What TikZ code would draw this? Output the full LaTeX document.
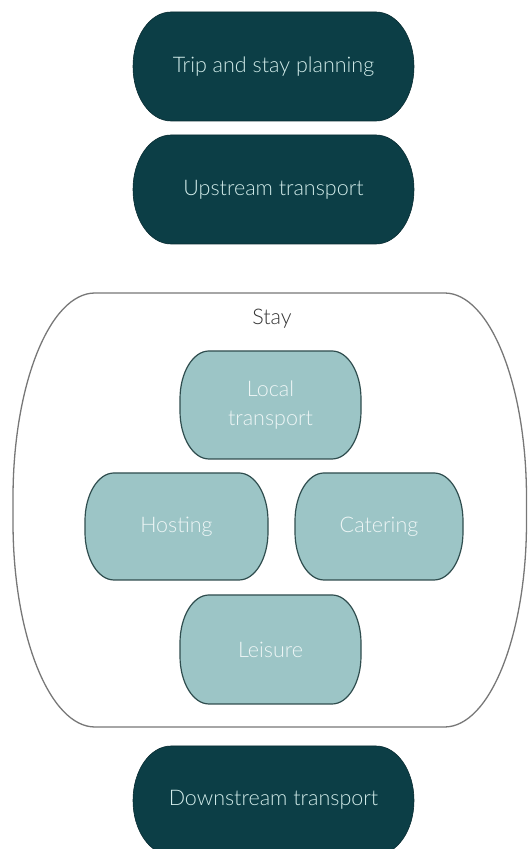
\documentclass[tikz,border=0pt]{standalone}
\usepackage{fontspec}
\setmainfont{Lato Light}
\definecolor{darkteal}{HTML}{0C3E46}
\definecolor{darktext}{HTML}{D2ECEA}
\definecolor{lightfill}{HTML}{9CC5C6}
\definecolor{lightborder}{HTML}{2F4D4E}
\definecolor{lighttext}{HTML}{EEF6F6}
\definecolor{framegray}{HTML}{777777}
% #1 x1, #2 y1, #3 x2, #4 y2, #5 rx, #6 ry
\newcommand\ovalbox[6]{(#1+#5,#4) -- (#3-#5,#4)
  arc[start angle=90,end angle=0,x radius=#5,y radius=#6] -- (#3,#2+#6)
  arc[start angle=0,end angle=-90,x radius=#5,y radius=#6] -- (#1+#5,#2)
  arc[start angle=270,end angle=180,x radius=#5,y radius=#6] -- (#1,#4-#6)
  arc[start angle=180,end angle=90,x radius=#5,y radius=#6] -- cycle}
\tikzset{
  darkshape/.style={fill=darkteal,draw=darkteal!70!black,line width=0.6pt},
  lightshape/.style={fill=lightfill,draw=lightborder,line width=1.2pt},
  frameshape/.style={draw=framegray,line width=1.3pt},
  darklabel/.style={text=darktext,font=\fontsize{21.5}{26}\selectfont,align=center},
  lightlabel/.style={text=lighttext,font=\fontsize{21.5}{29}\selectfont,align=center},
  framelabel/.style={text=black!80,font=\fontsize{21.5}{26}\selectfont}
}
\begin{document}
\begin{tikzpicture}[x=1pt,y=1pt]
\useasboundingbox (0,0) rectangle (528,849);
\begin{scope}
\clip (0,0) rectangle (528,849);
% dark capsules
\path[darkshape] \ovalbox{133}{728}{414}{837}{38}{54.5};
\node[darklabel] (trip) at (273.5,782.5) {Trip and stay planning};
\path[darkshape] \ovalbox{133}{605}{414}{714}{38}{54.5};
\node[darklabel] (up) at (273.5,659.5) {Upstream transport};
% stay container
\path[frameshape] \ovalbox{13}{122}{526.5}{556}{82}{205};
\node[framelabel] (stay) at (272,530) {Stay};
% light boxes
\path[lightshape] \ovalbox{180}{390}{361}{498}{29}{48};
\node[lightlabel] (local) at (270.5,444) {Local\\transport};
\path[lightshape] \ovalbox{85}{269}{268}{376}{29}{48};
\node[lightlabel] (host) at (176.5,322.5) {Hosting};
\path[lightshape] \ovalbox{295}{269}{463}{376}{29}{48};
\node[lightlabel] (cater) at (379,322.5) {Catering};
\path[lightshape] \ovalbox{180}{145}{361}{254}{29}{48};
\node[lightlabel] (leisure) at (270.5,199.5) {Leisure};
% downstream
\path[darkshape] \ovalbox{133}{-6}{414}{103}{38}{54.5};
\node[darklabel] (down) at (273.5,49) {Downstream transport};
\end{scope}
\end{tikzpicture}
\end{document}
